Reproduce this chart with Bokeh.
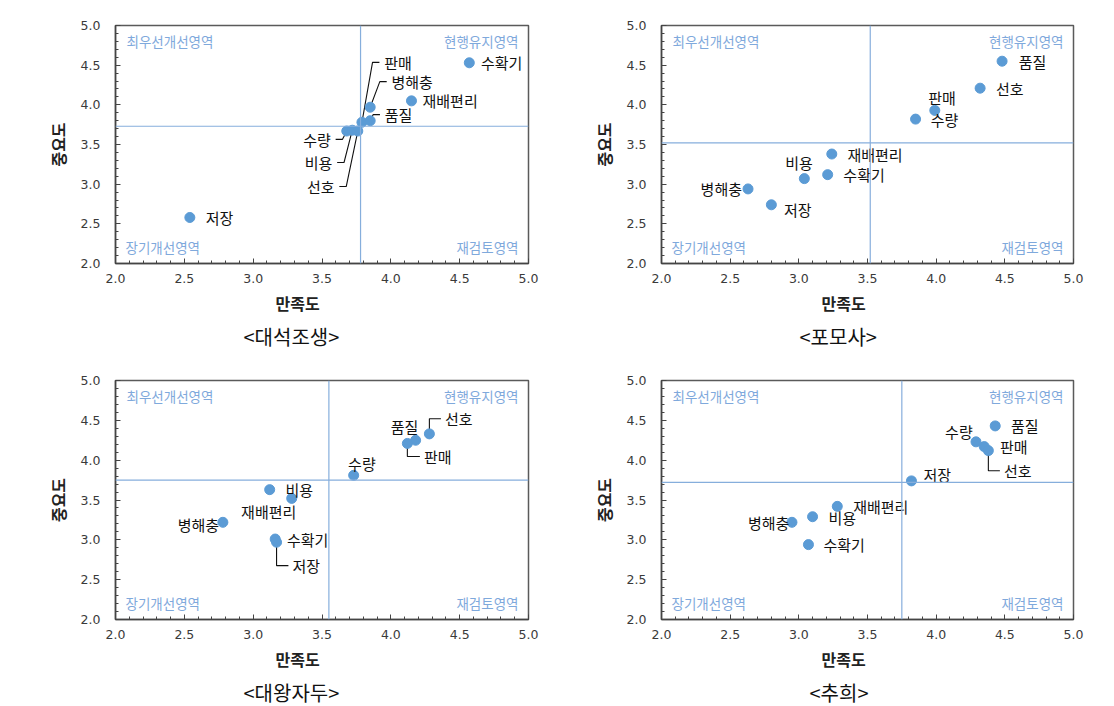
from bokeh.plotting import figure
from bokeh.models import Range1d, Span, Label, Title, SingleIntervalTicker, PrintfTickFormatter, ColumnDataSource
from bokeh.layouts import column, row
from bokeh.embed import file_html
from bokeh.resources import INLINE
from bokeh.core.properties import value

# ---------------- data ----------------
# <대석조생>
ds_items = ["수확기", "재배편리", "판매", "병해충", "품질", "수량", "비용", "선호", "저장"]
ds_sat = [4.57, 4.15, 3.79, 3.85, 3.85, 3.68, 3.72, 3.76, 2.54]
ds_imp = [4.53, 4.05, 3.78, 3.97, 3.80, 3.67, 3.68, 3.67, 2.58]
ds_mean = (3.78, 3.73)

# <포모사>
pm_items = ["품질", "선호", "판매", "수량", "재배편리", "수확기", "비용", "병해충", "저장"]
pm_sat = [4.48, 4.32, 3.99, 3.85, 3.24, 3.21, 3.04, 2.63, 2.80]
pm_imp = [4.55, 4.21, 3.93, 3.82, 3.38, 3.12, 3.07, 2.94, 2.74]
pm_mean = (3.52, 3.52)

# <대왕자두>
dw_items = ["선호", "품질", "판매", "수량", "비용", "재배편리", "병해충", "수확기", "저장"]
dw_sat = [4.28, 4.18, 4.12, 3.73, 3.12, 3.28, 2.78, 3.16, 3.17]
dw_imp = [4.33, 4.25, 4.21, 3.81, 3.63, 3.52, 3.22, 3.01, 2.97]
dw_mean = (3.55, 3.75)

# <추희>
ch_items = ["품질", "수량", "판매", "선호", "저장", "재배편리", "비용", "병해충", "수확기"]
ch_sat = [4.43, 4.29, 4.35, 4.38, 3.82, 3.28, 3.10, 2.95, 3.07]
ch_imp = [4.43, 4.23, 4.17, 4.12, 3.74, 3.42, 3.29, 3.22, 2.94]
ch_mean = (3.75, 3.72)

captions = ["<대석조생>", "<포모사>", "<대왕자두>", "<추희>"]
quad_names = ["최우선개선영역", "현행유지영역", "장기개선영역", "재검토영역"]
x_title = "만족도"
y_title = "중요도"

# ---------------- label placement (style) ----------------
# (dx, dy, align, leader)  leader: 0 none, 1 slanted, 2 vertical elbow
ds_lab = [(0.085, 0, "left", 0), (0.08, 0, "left", 0), (0.162, 0.755, "left", 1),
          (0.155, 0.323, "left", 1), (0.106, 0.076, "left", 1), (-0.116, -0.105, "right", 1),
          (-0.145, -0.407, "right", 1), (-0.169, -0.70, "right", 1), (0.116, 0, "left", 0)]
pm_lab = [(0.121, 0, "left", 0), (0.116, 0, "left", 0), (0.053, 0.168, "center", 0),
          (0.111, 0, "left", 0), (0.114, 0, "left", 0), (0.114, 0, "left", 0),
          (-0.039, 0.197, "center", 0), (-0.044, 0, "right", 0), (0.092, -0.055, "left", 0)]
dw_lab = [(0.114, 0.189, "left", 2), (-0.08, 0.172, "center", 0), (0.121, -0.164, "left", 2),
          (0.06, 0.147, "center", 0), (0.114, 0, "left", 0), (-0.167, -0.16, "center", 0),
          (-0.027, -0.025, "right", 0), (0.085, 0, "left", 0), (0.116, -0.294, "left", 2)]
ch_lab = [(0.114, 0, "left", 0), (-0.024, 0.13, "right", 0), (0.114, 0, "left", 0),
          (0.114, -0.252, "left", 2), (0.087, 0.084, "left", 0), (0.116, 0, "left", 0),
          (0.116, -0.013, "left", 0), (-0.019, 0, "right", 0), (0.109, 0, "left", 0)]

KR = "Noto Sans CJK KR"
PT = "#5B9BD5"
QL = "#86AEDC"
QT = "#7FA9DC"


def est_width(text, fs):
    w = 0.0
    for ch in text:
        w += fs if ord(ch) > 0x1000 else 0.5 * fs
    return w


def make_panel(items, sat, imp, mean, lab, caption, left, right, top, bottom, fh):
    p = figure(output_backend="svg", toolbar_location=None,
               frame_width=left[1], frame_height=fh,
               min_border_left=left[0], min_border_right=right,
               min_border_top=top, min_border_bottom=bottom,
               x_range=Range1d(2.0, 5.0), y_range=Range1d(2.0, 5.0),
               background_fill_color="white", border_fill_color="white")
    p.xgrid.visible = False
    p.ygrid.visible = False
    p.outline_line_color = "#5a5a5a"
    p.outline_line_width = 1.5
    for ax in (p.xaxis[0], p.yaxis[0]):
        ax.ticker = SingleIntervalTicker(interval=0.5, num_minor_ticks=5)
        ax.formatter = PrintfTickFormatter(format="%.1f")
        ax.major_tick_in = 5
        ax.major_tick_out = 0
        ax.minor_tick_in = 3
        ax.minor_tick_out = 0
        ax.axis_line_color = "#444444"
        ax.axis_line_width = 1.5
        ax.major_tick_line_color = "#444444"
        ax.minor_tick_line_color = "#444444"
        ax.major_label_text_font = "DejaVu Sans"
        ax.major_label_text_font_size = "12.5px"
        ax.major_label_text_color = "#3a3a3a"
    p.xaxis.major_label_standoff = 10
    p.yaxis.major_label_standoff = 15
    p.yaxis.axis_label = y_title
    p.yaxis.axis_label_text_font = KR
    p.yaxis.axis_label_text_font_size = "16px"
    p.yaxis.axis_label_text_font_style = "bold"
    p.yaxis.axis_label_text_color = "#222222"
    p.yaxis.axis_label_standoff = 8

    # x title and caption below, centred slightly left of the frame centre
    t1 = Title(text=x_title, align="left", offset=184 - est_width(x_title, 16) / 2,
               text_font=KR, text_font_size="16px", text_font_style="bold",
               text_color="#222222", standoff=6)
    t2 = Title(text=caption, align="left", offset=178 - est_width(caption, 20) / 2,
               text_font=KR, text_font_size="20px", text_font_style="normal",
               text_color="#111111", standoff=5)
    p.add_layout(t1, "below")
    p.add_layout(t2, "below")

    p.add_layout(Span(location=mean[0], dimension="height", line_color=QL, line_width=1.2))
    p.add_layout(Span(location=mean[1], dimension="width", line_color=QL, line_width=1.2))

    # quadrant names
    qkw = dict(text_font=KR, text_font_size="13.5px", text_color=QT)
    p.add_layout(Label(x=2.0, y=5.0, x_offset=11, y_offset=-5, text=quad_names[0],
                       text_align="left", text_baseline="top", **qkw))
    p.add_layout(Label(x=5.0, y=5.0, x_offset=-10, y_offset=-5, text=quad_names[1],
                       text_align="right", text_baseline="top", **qkw))
    p.add_layout(Label(x=2.0, y=2.0, x_offset=10, y_offset=7, text=quad_names[2],
                       text_align="left", text_baseline="bottom", **qkw))
    p.add_layout(Label(x=5.0, y=2.0, x_offset=-10, y_offset=7, text=quad_names[3],
                       text_align="right", text_baseline="bottom", **qkw))

    # leaders
    xs, ys = [], []
    lx, ly, la = [], [], []
    for xv, yv, (dx, dy, al, ld) in zip(sat, imp, lab):
        tx, ty = xv + dx, yv + dy
        lx.append(tx); ly.append(ty); la.append(al)
        sgn = -1 if al == "left" else 1
        if ld == 1:
            xs.append([xv, tx + sgn * 0.085, tx + sgn * 0.035])
            ys.append([yv, ty, ty])
        elif ld == 2:
            xs.append([xv, xv, tx + sgn * 0.03])
            ys.append([yv, ty, ty])
    if xs:
        p.multi_line(xs=xs, ys=ys, line_color="#111111", line_width=1.1)

    src = ColumnDataSource(dict(x=sat, y=imp))
    p.scatter("x", "y", source=src, size=10, fill_color=PT, line_color=PT)

    tsrc = ColumnDataSource(dict(x=lx, y=ly, t=items, a=la))
    p.text("x", "y", text="t", text_align="a", source=tsrc, text_baseline="middle",
           text_font=value(KR), text_font_size="15px", text_color="#111111")
    return p


p1 = make_panel(ds_items, ds_sat, ds_imp, ds_mean, ds_lab, captions[0],
                (115, 413), 33, 25, 99, 238)
p2 = make_panel(pm_items, pm_sat, pm_imp, pm_mean, pm_lab, captions[1],
                (100, 412), 30, 25, 99, 238)
p3 = make_panel(dw_items, dw_sat, dw_imp, dw_mean, dw_lab, captions[2],
                (115, 413), 33, 18, 85, 239)
p4 = make_panel(ch_items, ch_sat, ch_imp, ch_mean, ch_lab, captions[3],
                (100, 412), 30, 18, 85, 239)

layout = column(row(p1, p2), row(p3, p4))
open("out.html", "w").write(file_html(layout, INLINE))
